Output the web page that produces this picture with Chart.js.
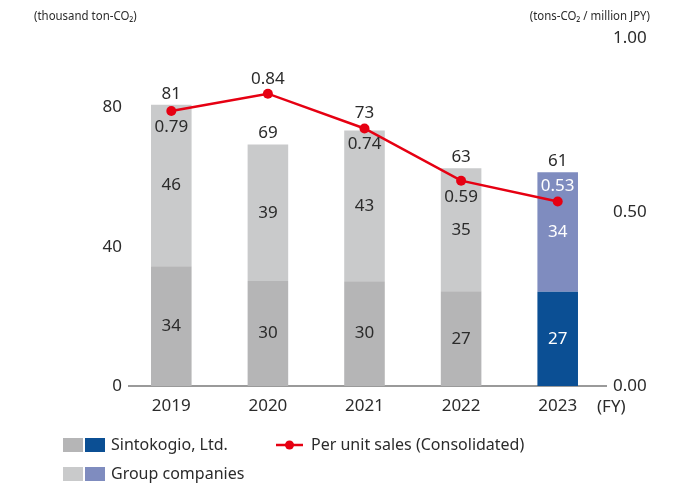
<!DOCTYPE html>
<html>
<head>
<meta charset="utf-8">
<script src="https://cdn.jsdelivr.net/npm/chart.js@4.4.1/dist/chart.umd.min.js"></script>
<style>
    body { margin: 0; background: #fff; }
    #wrap { position: relative; width: 680px; height: 487px; }
</style>
</head>
<body>
<div id="wrap"><canvas id="co2_chart" width="680" height="487"></canvas></div>
<script>
var years = ['2019', '2020', '2021', '2022', '2023'];
var sinto_values = [34.4, 30.2, 30.1, 27.2, 27.1];
var group_values = [46.4, 39.2, 43.3, 35.4, 34.3];
var total_labels = [81, 69, 73, 63, 61];
var per_sales = [0.79, 0.84, 0.74, 0.59, 0.53];
var left_ticks = [0, 40, 80];
var right_ticks = [0, 0.5, 1.0];

var sinto_colors = ['#b5b5b6', '#b5b5b6', '#b5b5b6', '#b5b5b6', '#0b4f94'];
var group_colors = ['#c9cacb', '#c9cacb', '#c9cacb', '#c9cacb', '#7f8cbf'];
var red = '#e60012';
var text_color = '#2b2b2b';
var font_main = '"Noto Sans", sans-serif';
// which side of the point each per-sales label sits on
var line_label_side = ['below', 'above', 'below', 'below', 'above'];

// narrow text for the unit titles (the original uses a condensed face)
function drawNarrow(ctx, text, x, y, align) {
    ctx.save();
    ctx.translate(x, y);
    ctx.scale(0.88, 1);
    ctx.textAlign = align;
    ctx.fillText(text, 0, 0);
    ctx.restore();
}

const labelsPlugin = {
    id: 'labelsPlugin',
    beforeDatasetsDraw(chart) {
        const ctx = chart.ctx;
        const area = chart.chartArea;
        ctx.save();
        ctx.strokeStyle = '#9a9a9a';
        ctx.lineWidth = 2;
        ctx.beginPath();
        ctx.moveTo(area.left + 5, area.bottom);
        ctx.lineTo(area.right + 1, area.bottom);
        ctx.stroke();
        ctx.restore();
    },
    afterDatasetsDraw(chart) {
        const ctx = chart.ctx;
        const sinto = chart.getDatasetMeta(1).data;
        const group = chart.getDatasetMeta(2).data;
        const line = chart.getDatasetMeta(0).data;
        ctx.save();
        ctx.font = '17px ' + font_main;
        ctx.textAlign = 'center';
        ctx.textBaseline = 'middle';
        for (var i = 0; i < years.length; i++) {
            var white = (i == years.length - 1);
            ctx.fillStyle = white ? '#ffffff' : text_color;
            var s = sinto[i];
            ctx.fillText(Math.round(sinto_values[i]), s.x, (s.y + s.base) / 2);
            var g = group[i];
            ctx.fillText(Math.round(group_values[i]), g.x, (g.y + g.base) / 2);

            // total above the stack, pushed up when the line point sits on it
            var p = line[i];
            var ty = g.y - 11;
            if (Math.abs(p.y - g.y) < 12) {
                ty = Math.min(ty, p.y - 15);
            }
            ctx.fillStyle = text_color;
            ctx.fillText(total_labels[i], g.x, ty);

            ctx.fillStyle = white ? '#ffffff' : text_color;
            var ly = line_label_side[i] == 'above' ? p.y - 15 : p.y + 16;
            ctx.fillText(per_sales[i].toFixed(2), p.x, ly);
        }
        ctx.restore();
    },
    afterDraw(chart) {
        const ctx = chart.ctx;
        const area = chart.chartArea;
        ctx.save();
        ctx.fillStyle = text_color;
        ctx.textBaseline = 'middle';

        // axis titles
        ctx.font = '13px ' + font_main;
        drawNarrow(ctx, '(thousand ton-CO\u2082)', 34, 16, 'left');
        drawNarrow(ctx, '(tons-CO\u2082 / million JPY)', 650, 16, 'right');

        ctx.font = '17px ' + font_main;
        ctx.textAlign = 'left';
        ctx.fillText('(FY)', area.right - 9, 407);

        // legend
        ctx.font = '16px ' + font_main;
        ctx.fillStyle = sinto_colors[0];
        ctx.fillRect(63, 438, 20, 14);
        ctx.fillStyle = sinto_colors[4];
        ctx.fillRect(85, 438, 20, 14);
        ctx.fillStyle = group_colors[0];
        ctx.fillRect(63, 467, 20, 14);
        ctx.fillStyle = group_colors[4];
        ctx.fillRect(85, 467, 20, 14);
        ctx.fillStyle = text_color;
        ctx.fillText('Sintokogio, Ltd.', 111, 445);
        ctx.fillText('Group companies', 111, 474);

        ctx.strokeStyle = red;
        ctx.lineWidth = 2.5;
        ctx.beginPath();
        ctx.moveTo(276, 445);
        ctx.lineTo(303, 445);
        ctx.stroke();
        ctx.fillStyle = red;
        ctx.beginPath();
        ctx.arc(289.5, 445, 4.5, 0, Math.PI * 2);
        ctx.fill();
        ctx.fillStyle = text_color;
        ctx.fillText('Per unit sales (Consolidated)', 311, 445);
        ctx.restore();
    }
};

const ctx = document.getElementById('co2_chart');
new Chart(ctx, {
    data: {
        labels: years,
        datasets: [{
            type: 'line',
            label: 'Per unit sales (Consolidated)',
            data: per_sales,
            yAxisID: 'y2',
            borderColor: red,
            backgroundColor: red,
            borderWidth: 2.5,
            pointRadius: 5,
            pointBackgroundColor: red,
            pointBorderWidth: 0,
            tension: 0,
            order: 0
        }, {
            type: 'bar',
            label: 'Sintokogio, Ltd.',
            data: sinto_values,
            yAxisID: 'y',
            backgroundColor: sinto_colors,
            categoryPercentage: 1,
            barPercentage: 0.42,
            order: 1
        }, {
            type: 'bar',
            label: 'Group companies',
            data: group_values,
            yAxisID: 'y',
            backgroundColor: group_colors,
            categoryPercentage: 1,
            barPercentage: 0.42,
            order: 1
        }]
    },
    options: {
        responsive: false,
        animation: false,
        layout: {
            padding: { top: 38, bottom: 61, left: 0, right: 0 }
        },
        scales: {
            x: {
                stacked: true,
                grid: { display: false, drawTicks: false },
                border: { display: false },
                ticks: {
                    color: text_color,
                    font: { family: font_main, size: 17 },
                    padding: 10
                },
                afterFit: function(scale) { scale.height = 40; }
            },
            y: {
                stacked: true,
                min: 0,
                max: 100,
                grid: { display: false, drawTicks: false },
                border: { display: false },
                afterBuildTicks: function(scale) {
                    scale.ticks = left_ticks.map(v => ({ value: v }));
                },
                ticks: {
                    color: text_color,
                    font: { family: font_main, size: 17 },
                    padding: 1
                },
                afterFit: function(scale) { scale.width = 123; }
            },
            y2: {
                position: 'right',
                min: 0,
                max: 1,
                grid: { display: false, drawTicks: false },
                border: { display: false },
                afterBuildTicks: function(scale) {
                    scale.ticks = right_ticks.map(v => ({ value: v }));
                },
                ticks: {
                    color: text_color,
                    font: { family: font_main, size: 17 },
                    padding: 7,
                    callback: function(v) { return Number(v).toFixed(2); }
                },
                afterFit: function(scale) { scale.width = 74; }
            }
        },
        plugins: {
            legend: false,
            tooltip: { enabled: false }
        }
    },
    plugins: [labelsPlugin]
});
</script>
</body>
</html>
